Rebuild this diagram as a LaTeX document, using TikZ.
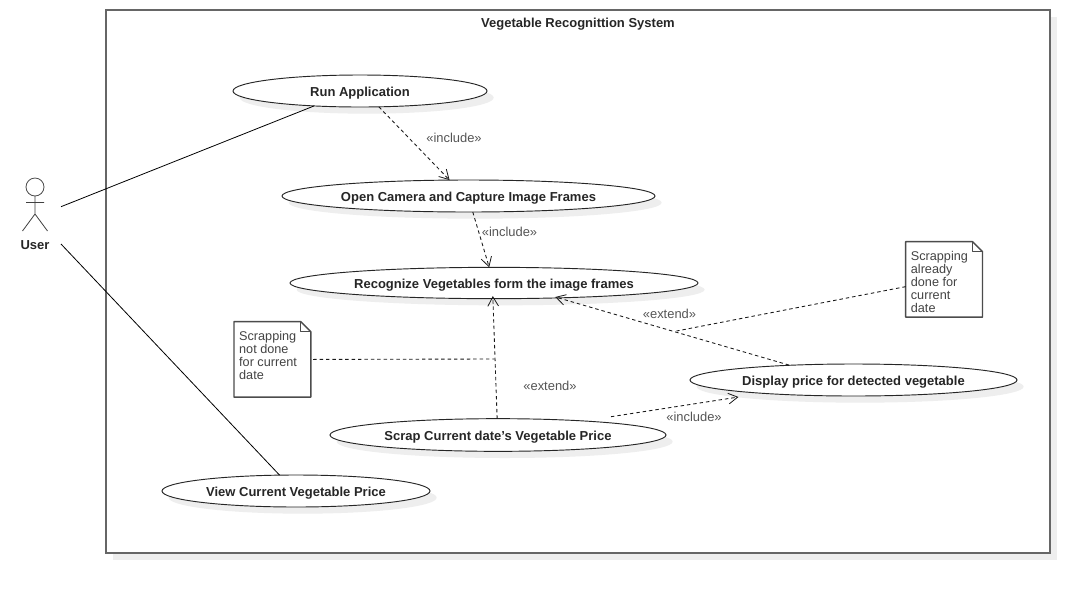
\documentclass[tikz,border=0pt]{standalone}
\usepackage{fontspec}
\setmainfont{Liberation Sans}
\usetikzlibrary{shapes.geometric,shadows,arrows.meta,calc}
\definecolor{sysgray}{HTML}{666666}
\definecolor{softshade}{HTML}{EEEEEE}
\definecolor{lbl}{HTML}{555555}
\definecolor{notetxt}{HTML}{444444}
\tikzset{
  usecase/.style={ellipse,draw=black!85,line width=.7pt,fill=white,inner sep=0pt,outer sep=0pt,
    font=\fontsize{9.75}{11}\selectfont\bfseries,text=black!85,text height=9pt,text depth=1pt,
    drop shadow={shadow xshift=5pt,shadow yshift=-5pt,fill=softshade,opacity=1}},
  assoc/.style={draw=black,line width=.6pt},
  dep/.style={draw=black!90,line width=.65pt,dash pattern=on 2.6pt off 2.2pt},
  deparrow/.style={dep,-{Straight Barb[length=7pt,width=8pt,line width=.6pt]}},
  stereo/.style={font=\fontsize{9.7}{11}\selectfont,text=lbl,inner sep=0pt},
  notebox/.style={anchor=north west,inner xsep=3.9pt,inner ysep=0pt,outer sep=0pt,minimum width=57.6pt,
    align=left,font=\fontsize{9.5}{9.75}\selectfont,text=notetxt},
  noteline/.style={draw=black!70,line width=1.1pt,line join=round},
}
\begin{document}
\begin{tikzpicture}[x=.75pt,y=-.75pt]
\useasboundingbox (0,0) rectangle (1090,594);
\fill[white] (0,0) rectangle (1090,594);
% system
\fill[softshade] (113,17) rectangle (1057,560);
\node[draw=sysgray,line width=1.4pt,fill=white,anchor=north west,minimum width=708pt,minimum height=407pt,inner sep=0pt,outer sep=0pt] (system) at (106,10) {};
\node[font=\fontsize{9.75}{11}\selectfont\bfseries,text=black!85,inner sep=0pt] (title) at (578,23.7) {Vegetable Recognittion System};
% use cases
\node[usecase,minimum width=190.5pt,minimum height=24pt] (run) at (360,91) {Run Application};
\node[usecase,minimum width=279.75pt,minimum height=24pt] (open) at (468.5,196) {Open Camera and Capture Image Frames};
\node[usecase,minimum width=306pt,minimum height=23.5pt] (recog) at (494,283) {Recognize Vegetables form the image frames};
\node[usecase,minimum width=245.25pt,minimum height=24pt] (display) at (853.5,380) {Display price for detected vegetable};
\node[usecase,minimum width=252pt,minimum height=24.5pt] (scrap) at (498,435) {Scrap Current date's Vegetable Price};
\node[usecase,minimum width=201pt,minimum height=24pt] (view) at (296,491) {View Current Vegetable Price};
% actor
\node[circle,draw=black!70,line width=.6pt,minimum size=13.5pt,inner sep=0pt,outer sep=0pt] (head) at (35,187) {};
\coordinate (hip) at (35,214);
\coordinate (armL) at (26,202.5);
\coordinate (armR) at (44,202.5);
\coordinate (legL) at (22.5,231);
\coordinate (legR) at (47.5,231);
\draw[draw=black!75,line width=.6pt] (head.south) -- (hip) -- (legL) (hip) -- (legR) (armL) -- (armR);
\node[font=\fontsize{9.75}{11}\selectfont\bfseries,text=black!85,inner sep=0pt] (user) at (35,245) {User};
\coordinate (userUp) at (61,206.7);
\coordinate (userDown) at (61,244);
% notes
\node[notebox] (note1) at (234,321.7) {\parbox[c][56.6pt][t]{49.8pt}{\vspace{7pt}Scrapping\\not done\\for current\\date}};
\node[notebox] (note2) at (905.7,241.7) {\parbox[c][56.6pt][t]{49.8pt}{\vspace{7pt}Scrapping\\already\\done for\\current\\date}};
\draw[noteline] (note1.north west) -- ($(note1.north east)+(-10,0)$) -- ($(note1.north east)+(0,10)$) -- (note1.south east) -- (note1.south west) -- cycle;
\draw[noteline,line width=.8pt] ($(note1.north east)+(-10,0)$) -- ($(note1.north east)+(-10,10)$) -- ($(note1.north east)+(0,10)$);
\draw[noteline] (note2.north west) -- ($(note2.north east)+(-10,0)$) -- ($(note2.north east)+(0,10)$) -- (note2.south east) -- (note2.south west) -- cycle;
\draw[noteline,line width=.8pt] ($(note2.north east)+(-10,0)$) -- ($(note2.north east)+(-10,10)$) -- ($(note2.north east)+(0,10)$);
% associations
\draw[assoc] (userUp) -- (run.198.4);
\draw[assoc] (userDown) -- (view.136.7);
% dependencies
\draw[deparrow] (run.320) -- (open.140.6);
\draw[deparrow] (open.285.7) -- (recog.107.4);
\draw[deparrow,shorten >=-2pt] (scrap.93.4) -- (recog.266.4);
\draw[deparrow,shorten >=-2.4pt,shorten <=.5pt] (display.167.4) -- (recog.347.7);
\coordinate (scrapOut) at (611,416.7);
\coordinate (displayIn) at (738.5,397);
\draw[deparrow] (scrapOut) -- (displayIn);
\coordinate (join1) at (494.5,359);
\coordinate (join2) at (676.5,331);
\draw[dep,shorten <=1.8pt] (note1.east) -- (join1);
\draw[dep] ($(note2.west)+(0,7.2)$) -- (join2);
% stereotypes
\node[stereo] (s1) at (454,137.6) {«include»};
\node[stereo] (s2) at (509.5,231.6) {«include»};
\node[stereo] (s3) at (669.5,313.6) {«extend»};
\node[stereo] (s4) at (550,386) {«extend»};
\node[stereo] (s5) at (694,417) {«include»};
\end{tikzpicture}
\end{document}
